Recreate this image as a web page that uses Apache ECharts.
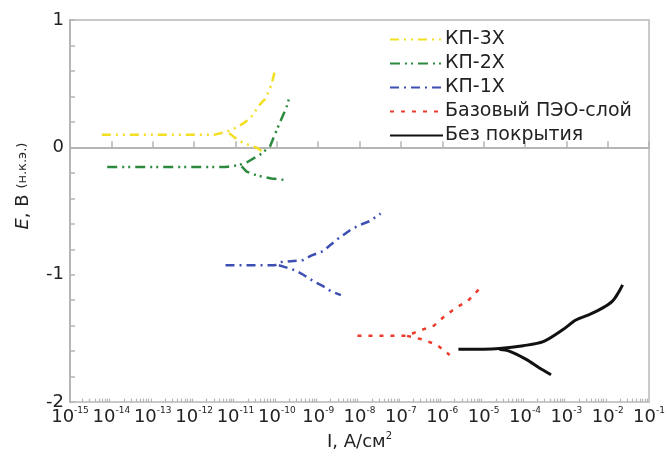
<!DOCTYPE html>
<html><head><meta charset="utf-8">
<script src="https://cdn.jsdelivr.net/npm/echarts@6/dist/echarts.min.js"></script>
<style>html,body{margin:0;padding:0;background:#fff}#c{width:668px;height:456px}</style>
</head><body><div id="c"></div>
<script>
// Series names (legend)
const seriesNames = ['КП-3Х', 'КП-2Х', 'КП-1Х', 'Базовый ПЭО-слой', 'Без покрытия'];

// Values: log10(I, A/cm2) and E (V, н.к.э.)
// КП-3Х
const kp3MainLogI = [-14.23, -13.3, -12.4, -11.5, -11.3, -11.1, -10.8, -10.64, -10.4, -10.28, -10.13, -10.04];
const kp3MainE    = [0.10, 0.10, 0.10, 0.10, 0.115, 0.135, 0.19, 0.23, 0.34, 0.38, 0.49, 0.61];
const kp3CathLogI = [-11.15, -10.97, -10.8, -10.47, -10.37];
const kp3CathE    = [0.11, 0.065, 0.034, -0.005, -0.028];
// КП-2Х
const kp2MainLogI = [-14.1, -13, -12, -11.24, -10.92, -10.71, -10.37, -10.16, -10.01, -9.92, -9.77, -9.68];
const kp2MainE    = [-0.155, -0.155, -0.155, -0.155, -0.14, -0.115, -0.05, 0.01, 0.13, 0.2, 0.31, 0.41];
const kp2CathLogI = [-10.85, -10.73, -10.49, -10.13, -9.84];
const kp2CathE    = [-0.15, -0.19, -0.22, -0.245, -0.255];
// КП-1Х
const kp1MainLogI = [-11.24, -10.6, -10.04, -9.89, -9.36, -9.17, -8.88, -8.72, -8.53, -8.21, -8.0, -7.76, -7.49];
const kp1MainE    = [-0.925, -0.925, -0.925, -0.9, -0.885, -0.85, -0.815, -0.77, -0.72, -0.645, -0.61, -0.58, -0.52];
const kp1CathLogI = [-9.95, -9.8, -9.56, -9.36, -9.12, -8.88, -8.69, -8.45];
const kp1CathE    = [-0.925, -0.94, -0.965, -1.0, -1.05, -1.09, -1.13, -1.16];
// Базовый ПЭО-слой
const peoMainLogI = [-8.05, -7.5, -7.0, -6.85, -6.56, -6.2, -5.96, -5.67, -5.38, -5.07];
const peoMainE    = [-1.48, -1.48, -1.48, -1.48, -1.44, -1.40, -1.33, -1.26, -1.205, -1.10];
const peoCathLogI = [-6.85, -6.46, -6.13, -5.82];
const peoCathE    = [-1.48, -1.51, -1.55, -1.63];
// Без покрытия
const bareMainLogI = [-5.61, -5.0, -4.62, -4.04, -3.56, -3.08, -2.77, -2.46, -2.12, -1.88, -1.74, -1.64];
const bareMainE    = [-1.585, -1.585, -1.58, -1.557, -1.525, -1.43, -1.355, -1.315, -1.26, -1.205, -1.14, -1.08];
const bareCathLogI = [-4.62, -4.38, -3.97, -3.66, -3.37];
const bareCathE    = [-1.585, -1.60, -1.665, -1.73, -1.785];

// Axis ticks
const xTickExponents = [-15, -14, -13, -12, -11, -10, -9, -8, -7, -6, -5, -4, -3, -2, -1];
const yTickValues = [1, 0, -1, -2];

const pts = (lx, ey) => lx.map((v, i) => [Math.pow(10, v), ey[i]]);
const xMajor = xTickExponents.map(e => Math.pow(10, e));
const xMinor = [];
xTickExponents.slice(0, -1).forEach(e => { for (let k = 2; k <= 9; k++) xMinor.push(k * Math.pow(10, e)); });

const styles = [
  { color: '#f2df22', type: [9, 5, 2, 5, 2, 5], width: 2.5 },
  { color: '#2b8a3e', type: [10, 5, 2, 4, 2, 5], width: 2.5 },
  { color: '#3d4fb3', type: [9, 5, 2, 5], width: 2.5 },
  { color: '#ec3b2a', type: [4, 7], width: 2.5 },
  { color: '#111111', type: 'solid', width: 3 }
];
const branches = [
  [pts(kp3MainLogI, kp3MainE), pts(kp3CathLogI, kp3CathE)],
  [pts(kp2MainLogI, kp2MainE), pts(kp2CathLogI, kp2CathE)],
  [pts(kp1MainLogI, kp1MainE), pts(kp1CathLogI, kp1CathE)],
  [pts(peoMainLogI, peoMainE), pts(peoCathLogI, peoCathE)],
  [pts(bareMainLogI, bareMainE), pts(bareCathLogI, bareCathE)]
];
const series = [];
branches.forEach((b, i) => {
  b.forEach(d => series.push({
    name: seriesNames[i], type: 'line', data: d, symbol: 'none', showSymbol: false,
    smooth: i === 4 ? 0.3 : false, xAxisIndex: 0,
    lineStyle: { color: styles[i].color, type: styles[i].type, width: styles[i].width },
    itemStyle: { color: styles[i].color }
  }));
});

const FONT = '"DejaVu Sans", "Liberation Sans", Arial, sans-serif';
const axisGray = '#b5b5b5';
const chart = echarts.init(document.getElementById('c'), null, { renderer: 'canvas' });
chart.setOption({
  animation: false,
  textStyle: { fontFamily: FONT },
  grid: { left: 70, right: 14, top: 20, bottom: 51, show: true, borderColor: '#c8c8c8', borderWidth: 2, backgroundColor: 'transparent' },
  legend: {
    data: seriesNames, orient: 'vertical', left: 384, top: 25,
    itemWidth: 53, itemHeight: 14, itemGap: 5,
    itemStyle: { color: 'transparent', borderWidth: 0, opacity: 0 },
    textStyle: { fontSize: 19, color: '#222', fontFamily: FONT, lineHeight: 19, padding: [0, 0, 0, -3] }
  },
  xAxis: [{
    type: 'log', logBase: 10, min: 1e-15, max: 1e-1,
    name: '{n|I, А/см}{s|2}', nameLocation: 'middle', nameGap: 25,
    nameTextStyle: { rich: {
      n: { fontSize: 18, color: '#222', fontFamily: FONT, lineHeight: 20, verticalAlign: 'bottom' },
      s: { fontSize: 10, color: '#222', fontFamily: FONT, lineHeight: 12, verticalAlign: 'top' } } },
    axisLine: { show: true, lineStyle: { color: axisGray, width: 2 } },
    axisTick: { show: true, inside: true, length: 6, customValues: xMajor, lineStyle: { color: axisGray, width: 1.5 } },
    minorTick: { show: false },
    splitLine: { show: false },
    axisLabel: {
      customValues: xMajor, margin: 4, showMinLabel: true, showMaxLabel: true,
      formatter: v => '{b|10}{s|' + Math.round(Math.log10(v)) + '}',
      rich: {
        b: { fontSize: 18, color: '#222', fontFamily: FONT, lineHeight: 20, verticalAlign: 'bottom' },
        s: { fontSize: 9, color: '#222', fontFamily: FONT, lineHeight: 11, verticalAlign: 'top' }
      }
    }
  }, {
    type: 'log', logBase: 10, min: 1e-15, max: 1e-1, position: 'bottom',
    axisLine: { show: false },
    axisTick: { show: true, inside: true, length: 3.5, customValues: xMinor, lineStyle: { color: axisGray, width: 1.2 } },
    axisLabel: { show: false }, splitLine: { show: false }
  }],
  yAxis: {
    type: 'value', min: -2, max: 1, interval: 1,
    name: '{i|E}{n|, В }{s|(н.к.э.)}', nameLocation: 'middle', nameGap: 38, nameRotate: 90,
    nameTextStyle: { padding: [0, 0, 0, 50], rich: {
      i: { fontSize: 18, fontStyle: 'italic', color: '#222', fontFamily: FONT },
      n: { fontSize: 18, color: '#222', fontFamily: FONT },
      s: { fontSize: 13, color: '#222', fontFamily: FONT } } },
    axisLine: { show: true, lineStyle: { color: axisGray, width: 2 } },
    axisTick: { show: true, inside: true, length: 5, lineStyle: { color: axisGray, width: 1.5 } },
    minorTick: { show: true, splitNumber: 5, length: 5, lineStyle: { color: axisGray, width: 1.5 } },
    splitLine: { show: false },
    axisLabel: { fontSize: 18, color: '#222', fontFamily: FONT, margin: 6 }
  },
  series: series
});
</script>
</body></html>
